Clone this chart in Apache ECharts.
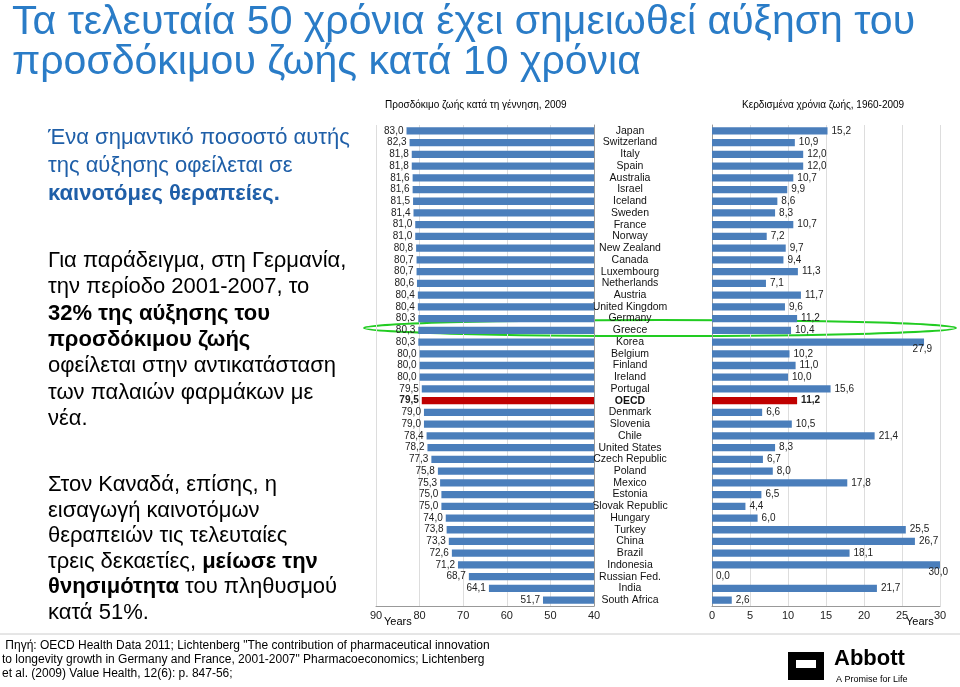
<!DOCTYPE html>
<html><head><meta charset="utf-8">
<script src="https://cdn.jsdelivr.net/npm/echarts@6/dist/echarts.min.js"></script>
<style>html,body{margin:0;padding:0;background:#fff}#c{width:960px;height:687px}</style>
</head><body><div id="c"></div>
<script>
const countries = ['Japan','Switzerland','Italy','Spain','Australia','Israel','Iceland','Sweden','France','Norway',
  'New Zealand','Canada','Luxembourg','Netherlands','Austria','United Kingdom','Germany','Greece','Korea','Belgium',
  'Finland','Ireland','Portugal','OECD','Denmark','Slovenia','Chile','United States','Czech Republic','Poland',
  'Mexico','Estonia','Slovak Republic','Hungary','Turkey','China','Brazil','Indonesia','Russian Fed.','India','South Africa'];
const lifeExp2009 = [83.0,82.3,81.8,81.8,81.6,81.6,81.5,81.4,81.0,81.0,80.8,80.7,80.7,80.6,80.4,80.4,80.3,80.3,80.3,80.0,
  80.0,80.0,79.5,79.5,79.0,79.0,78.4,78.2,77.3,75.8,75.3,75.0,75.0,74.0,73.8,73.3,72.6,71.2,68.7,64.1,51.7];
const yearsGained = [15.2,10.9,12.0,12.0,10.7,9.9,8.6,8.3,10.7,7.2,9.7,9.4,11.3,7.1,11.7,9.6,11.2,10.4,27.9,10.2,
  11.0,10.0,15.6,11.2,6.6,10.5,21.4,8.3,6.7,8.0,17.8,6.5,4.4,6.0,25.5,26.7,18.1,30.0,0.0,21.7,2.6];
const leftTicks = [40, 90];
const rightTicks = [0, 30];

const BLUE = '#4a7ebb', RED = '#c00000';
const fmt = v => v.toFixed(1).replace('.', ',');
const mkData = (arr, right) => arr.map((v, i) => {
  const label = {};
  if (countries[i] === 'OECD') label.fontWeight = 'bold';
  if (right && v > 27) { label.position = 'insideBottomRight'; label.offset = [12, 13]; }
  return { value: v, itemStyle: { color: countries[i] === 'OECD' ? RED : BLUE }, label };
});

const chart = echarts.init(document.getElementById('c'));
const F = 'Liberation Sans, Arial, sans-serif';
const BF = '22px ' + F, BB = 'bold 22px ' + F;
const txt = (x, y, text, o) => ({ type: 'text', left: x, top: y, style: Object.assign({ text, font: BF, fill: '#000' }, o || {}) });
const rich = (x, y, text) => ({ type: 'text', left: x, top: y, style: { rich: { n: { font: BF }, b: { font: BB } }, text } });
const axisCommon = {
  axisLine: { show: true, lineStyle: { color: '#999' } }, axisTick: { show: false },
  axisLabel: { color: '#222', fontSize: 11, margin: 4 }, splitLine: { lineStyle: { color: '#ddd' } }
};
const p2 = k => 250 + 26.3 * k;
const p3 = k => 474 + 25.5 * k;

chart.setOption({
  animation: false,
  textStyle: { fontFamily: F },
  grid: [
    { left: 376, width: 218, top: 125, height: 481 },
    { left: 712, width: 228, top: 125, height: 481 }
  ],
  xAxis: [
    Object.assign({ gridIndex: 0, type: 'value', min: leftTicks[0], max: leftTicks[1], interval: 10, inverse: true }, axisCommon),
    Object.assign({ gridIndex: 1, type: 'value', min: rightTicks[0], max: rightTicks[1], interval: 5 }, axisCommon)
  ],
  yAxis: [
    { gridIndex: 0, type: 'category', data: countries, inverse: true, position: 'right',
      axisLine: { show: true, lineStyle: { color: '#999' } }, axisTick: { show: false }, axisLabel: { show: false } },
    { gridIndex: 1, type: 'category', data: countries, inverse: true,
      axisLine: { show: true, lineStyle: { color: '#999' } }, axisTick: { show: false },
      axisLabel: { interval: 0, align: 'center', margin: 82, fontSize: 10.5, color: '#111',
        formatter: v => v === 'OECD' ? '{b|OECD}' : v, rich: { b: { fontWeight: 'bold', fontSize: 10.5 } } } }
  ],
  series: [
    { type: 'bar', xAxisIndex: 0, yAxisIndex: 0, data: mkData(lifeExp2009, false), barWidth: '62%',
      label: { show: true, position: 'left', distance: 3, fontSize: 10, color: '#222', formatter: p => fmt(p.value) } },
    { type: 'bar', xAxisIndex: 1, yAxisIndex: 1, data: mkData(yearsGained, true), barWidth: '62%',
      label: { show: true, position: 'right', distance: 4, fontSize: 10, color: '#222', formatter: p => fmt(p.value) } }
  ],
  graphic: [
    txt(12, 2, 'Τα τελευταία 50 χρόνια έχει σημειωθεί αύξηση του', { font: '41px ' + F, fill: '#2a7cc7' }),
    txt(12, 42, 'προσδόκιμου ζωής κατά 10 χρόνια', { font: '41px ' + F, fill: '#2a7cc7' }),
    txt(48, 127, 'Ένα σημαντικό ποσοστό αυτής', { fill: '#1f5fa8' }),
    txt(48, 155, 'της αύξησης οφείλεται σε', { fill: '#1f5fa8' }),
    txt(48, 183, 'καινοτόμες θεραπείες.', { fill: '#1f5fa8', font: BB }),
    txt(48, p2(0), 'Για παράδειγμα, στη Γερμανία,'),
    txt(48, p2(1), 'την περίοδο 2001-2007, το'),
    txt(48, p2(2), '32% της αύξησης του', { font: BB }),
    txt(48, p2(3), 'προσδόκιμου ζωής', { font: BB }),
    txt(48, p2(4), 'οφείλεται στην αντικατάσταση'),
    txt(48, p2(5), 'των παλαιών φαρμάκων με'),
    txt(48, p2(6), 'νέα.'),
    txt(48, p3(0), 'Στον Καναδά, επίσης, η'),
    txt(48, p3(1), 'εισαγωγή καινοτόμων'),
    txt(48, p3(2), 'θεραπειών τις τελευταίες'),
    rich(48, p3(3), '{n|τρεις δεκαετίες, }{b|μείωσε την}'),
    rich(48, p3(4), '{b|θνησιμότητα}{n| του πληθυσμού}'),
    txt(48, p3(5), 'κατά 51%.'),
    txt(385, 100, 'Προσδόκιμο ζωής κατά τη γέννηση, 2009', { font: '10px ' + F }),
    txt(742, 100, 'Κερδισμένα χρόνια ζωής, 1960-2009', { font: '10px ' + F }),
    txt(384, 616, 'Years', { font: '11px ' + F }),
    txt(906, 616, 'Years', { font: '11px ' + F }),
    { type: 'ellipse', shape: { cx: 660, cy: 328, rx: 296, ry: 8 },
      style: { fill: 'none', stroke: '#22cc22', lineWidth: 2 } },
    { type: 'line', shape: { x1: 0, y1: 634, x2: 960, y2: 634 }, style: { stroke: '#ccc', lineWidth: 1 } },
    txt(2, 640, ' Πηγή: OECD Health Data 2011; Lichtenberg "The contribution of pharmaceutical innovation', { font: '12px ' + F }),
    txt(2, 654, 'to longevity growth in Germany and France, 2001-2007" Pharmacoeconomics; Lichtenberg', { font: '12px ' + F }),
    txt(2, 668, 'et al. (2009) Value Health, 12(6): p. 847-56;', { font: '12px ' + F }),
    { type: 'rect', shape: { x: 788, y: 652, width: 36, height: 28 }, style: { fill: '#000' } },
    { type: 'rect', shape: { x: 796, y: 660, width: 20, height: 8 }, style: { fill: '#fff' } },
    txt(834, 648, 'Abbott', { font: 'bold 22px ' + F }),
    txt(836, 675, 'A Promise for Life', { font: '9px ' + F })
  ]
});
</script></body></html>
